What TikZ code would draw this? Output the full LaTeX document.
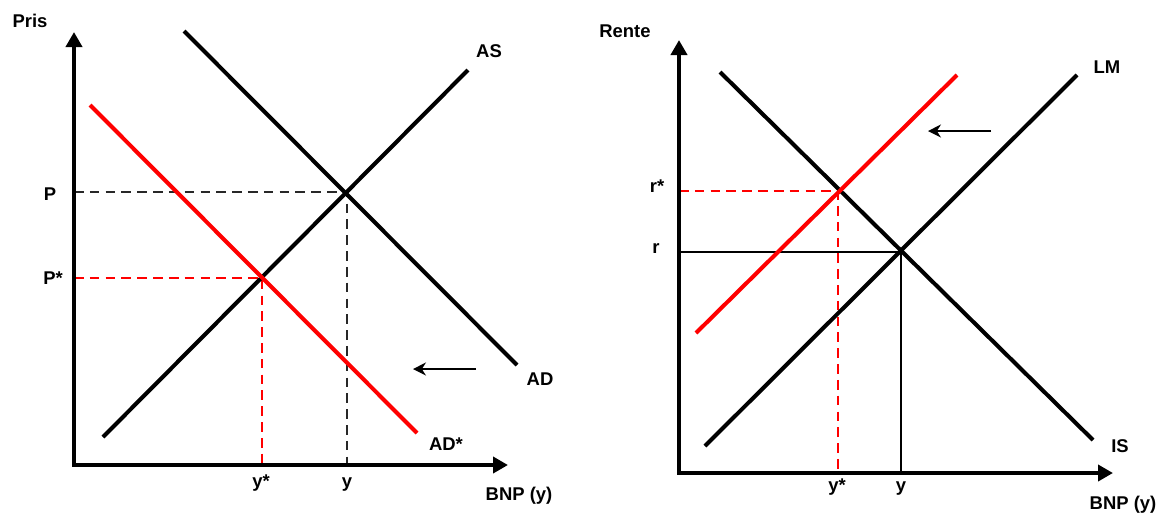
\documentclass[tikz,border=0pt]{standalone}
\usepackage{fontspec}
\setmainfont{Liberation Sans}
\usetikzlibrary{arrows.meta}
\definecolor{shiftred}{RGB}{255,0,0}
\definecolor{ink}{RGB}{0,0,0}
\definecolor{guidegray}{RGB}{40,40,40}
\tikzset{
  axis/.style={draw=ink,line width=2.8pt,line join=miter,
    {Triangle[length=3mm,width=3.2mm]}-{Triangle[length=3mm,width=3.2mm]}},
  curve/.style={draw=#1,line width=2.3pt},
  curve/.default=ink,
  guide/.style={draw=#1,line width=0.9pt,dash pattern=on 5.5pt off 3.5pt},
  guide/.default=guidegray,
  solid guide/.style={draw=ink,line width=0.6pt},
  shift arrow/.style={draw=ink,line width=0.9pt,-{Stealth[length=2.6mm,width=2.6mm]}},
  lbl/.style={anchor=base,inner sep=0pt,font=\fontsize{10.5}{12}\selectfont\bfseries},
}
\begin{document}
\begin{tikzpicture}[x=0.02cm,y=-0.02cm]
  \useasboundingbox (0,0) rectangle (1156,512);
  % --- Pris / BNP panel
  \coordinate (ytop1) at (74,32);
  \coordinate (o1) at (74,465);
  \coordinate (xend1) at (508,465);
  \coordinate (eq1) at (347,192);
  \coordinate (eqs1) at (262,278);
  \draw[guide] (o1 |- eq1) -- (eq1) -- (eq1 |- o1);
  \draw[guide=shiftred] (o1 |- eqs1) -- (eqs1) -- (eqs1 |- o1);
  \draw[axis] (ytop1) -- (o1) -- (xend1);
  \coordinate (as0) at (103,437);
  \coordinate (as1) at (468,70);
  \coordinate (ad0) at (184,31);
  \coordinate (ad1) at (517,365);
  \coordinate (ads0) at (90,105);
  \coordinate (ads1) at (417,433);
  \draw[curve] (as0) -- (as1);
  \draw[curve] (ad0) -- (ad1);
  \draw[curve=shiftred] (ads0) -- (ads1);
  \coordinate (tail1) at (476,369);
  \coordinate (head1) at (413,369);
  \draw[shift arrow] (tail1) -- (head1);
  \node[lbl] (pris) at (30,27) {Pris};
  \node[lbl] (as) at (489,57) {AS};
  \node[lbl] (ad) at (540,385) {AD};
  \node[lbl] (adstar) at (446,450) {AD*};
  \node[lbl] (p) at (50,200) {P};
  \node[lbl] (pstar) at (53,284) {P*};
  \node[lbl] (ystar1) at (261,487) {y*};
  \node[lbl] (y1) at (347,487) {y};
  \node[lbl] (bnp1) at (519,500) {BNP (y)};
  % --- Rente / BNP panel
  \coordinate (ytop2) at (679,40);
  \coordinate (o2) at (679,473);
  \coordinate (xend2) at (1113,473);
  \coordinate (eq2) at (901,252);
  \coordinate (eqs2) at (838,191);
  \draw[solid guide] (o2 |- eq2) -- (eq2) -- (eq2 |- o2);
  \draw[guide=shiftred] (o2 |- eqs2) -- (eqs2) -- (eqs2 |- o2);
  \draw[axis] (ytop2) -- (o2) -- (xend2);
  \coordinate (lm0) at (705,446);
  \coordinate (lm1) at (1077,75);
  \coordinate (is0) at (720,72);
  \coordinate (is1) at (1093,440);
  \coordinate (lms0) at (696,333);
  \coordinate (lms1) at (957,75);
  \draw[curve] (lm0) -- (lm1);
  \draw[curve] (is0) -- (is1);
  \draw[curve=shiftred] (lms0) -- (lms1);
  \coordinate (tail2) at (991,131);
  \coordinate (head2) at (928,131);
  \draw[shift arrow] (tail2) -- (head2);
  \node[lbl] (rente) at (625,37) {Rente};
  \node[lbl] (lm) at (1107,73) {LM};
  \node[lbl] (is) at (1120,452) {IS};
  \node[lbl] (rstar) at (657,192) {r*};
  \node[lbl] (r) at (656,253) {r};
  \node[lbl] (ystar2) at (837,491) {y*};
  \node[lbl] (y2) at (901,491) {y};
  \node[lbl] (bnp2) at (1123,509) {BNP (y)};
\end{tikzpicture}
\end{document}
